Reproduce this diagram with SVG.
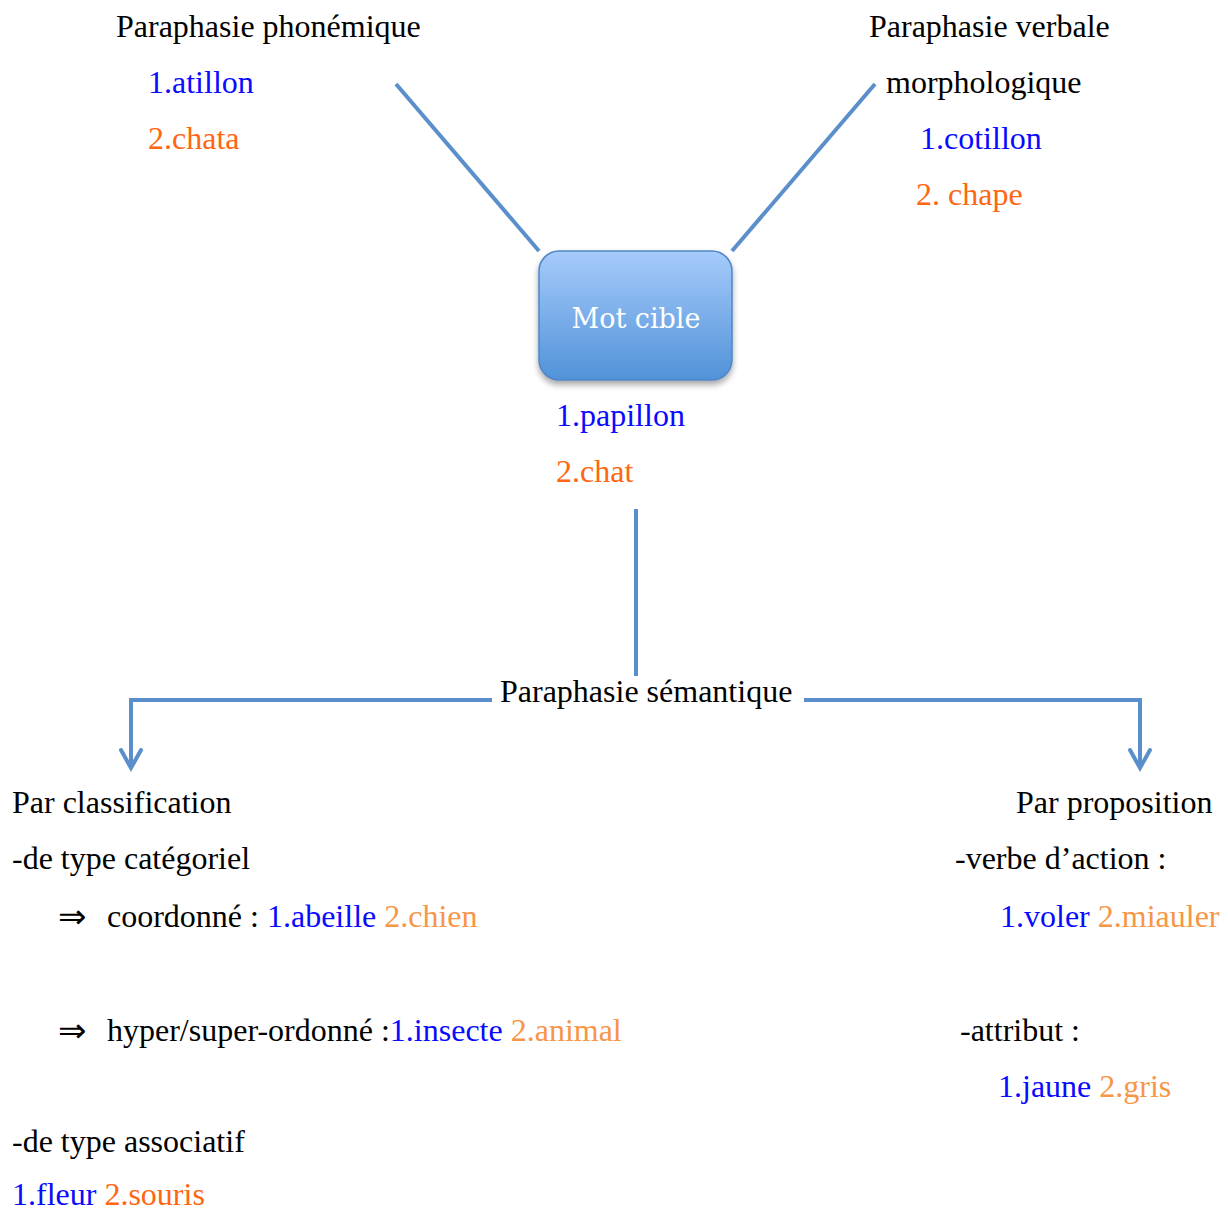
<svg xmlns="http://www.w3.org/2000/svg" width="1228" height="1210" viewBox="0 0 1228 1210">
<style>
text{font-family:"Liberation Serif","Times New Roman",serif;font-size:32px;fill:#000}
.b{fill:#0a0aff}
.o{fill:#ff6611}
.lo{fill:#f79646}
.arr{font-family:"DejaVu Sans",sans-serif;font-size:34px}
.conn{stroke:#5b8fcb;stroke-width:4;fill:none}
.head{stroke:#5b8fcb;stroke-width:4;fill:none;stroke-linecap:round;stroke-linejoin:miter}
</style>
<defs>
<linearGradient id="g" x1="0" y1="0" x2="0" y2="1">
<stop offset="0" stop-color="#a6cbfb"/>
<stop offset="1" stop-color="#5192d8"/>
</linearGradient>
<filter id="sh" x="-20%" y="-20%" width="140%" height="150%">
<feGaussianBlur in="SourceAlpha" stdDeviation="3"/>
<feOffset dy="4"/>
<feComponentTransfer><feFuncA type="linear" slope="0.35"/></feComponentTransfer>
<feMerge><feMergeNode/><feMergeNode in="SourceGraphic"/></feMerge>
</filter>
</defs>
<g id="connectors">
<line class="conn" x1="396" y1="84" x2="539" y2="251"/>
<line class="conn" x1="875" y1="84" x2="732" y2="251"/>
<line class="conn" x1="636" y1="509" x2="636" y2="676"/>
<polyline class="conn" points="492,700 131,700 131,768"/>
<polyline class="conn" points="804,700 1140,700 1140,768"/>
<path class="head" d="M121,750 L131,768 L141,750"/>
<path class="head" d="M1130,750 L1140,768 L1150,750"/>
</g>
<g id="mot-cible">
<rect x="539" y="251" width="193" height="129" rx="20" fill="url(#g)" stroke="#4f86c6" stroke-width="1.5" filter="url(#sh)"/>
<text x="636" y="328" text-anchor="middle" style="fill:#fff;font-family:'DejaVu Serif','Liberation Serif',serif;font-size:27px">Mot cible</text>
<text x="556" y="426" class="b">1.papillon</text>
<text x="556" y="482" class="o">2.chat</text>
</g>
<g id="phonemique">
<text x="116" y="37">Paraphasie phonémique</text>
<text x="148" y="93" class="b">1.atillon</text>
<text x="148" y="149" class="o">2.chata</text>
</g>
<g id="verbale">
<text x="869" y="37">Paraphasie verbale</text>
<text x="886" y="93">morphologique</text>
<text x="920" y="149" class="b">1.cotillon</text>
<text x="916" y="205" class="o">2. chape</text>
</g>
<g id="semantique">
<text x="500" y="702">Paraphasie sémantique</text>
</g>
<g id="classification">
<text x="12" y="813">Par classification</text>
<text x="12" y="869">-de type catégoriel</text>
<text x="58" y="928" class="arr">⇒</text>
<text x="107" y="927">coordonné : <tspan class="b">1.abeille</tspan> <tspan class="lo">2.chien</tspan></text>
<text x="58" y="1042" class="arr">⇒</text>
<text x="107" y="1041">hyper/super-ordonné :<tspan class="b">1.insecte</tspan> <tspan class="lo">2.animal</tspan></text>
<text x="12" y="1152">-de type associatif</text>
<text x="12" y="1205"><tspan class="b">1.fleur</tspan> <tspan class="o">2.souris</tspan></text>
</g>
<g id="proposition">
<text x="1016" y="813">Par proposition</text>
<text x="955" y="869">-verbe d’action :</text>
<text x="1000" y="927"><tspan class="b">1.voler</tspan> <tspan class="lo">2.miauler</tspan></text>
<text x="960" y="1041">-attribut :</text>
<text x="998" y="1097"><tspan class="b">1.jaune</tspan> <tspan class="lo">2.gris</tspan></text>
</g>
</svg>
